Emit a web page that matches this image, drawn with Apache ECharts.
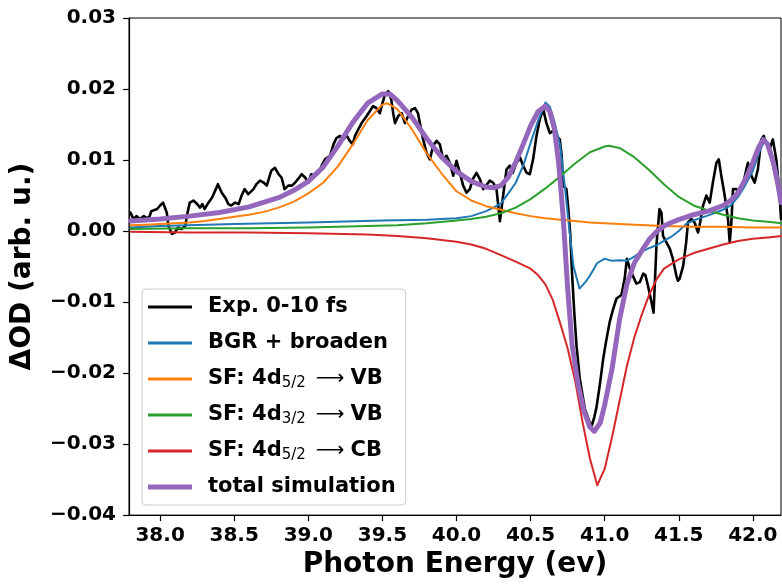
<!DOCTYPE html>
<html><head><meta charset="utf-8">
<script src="https://cdn.jsdelivr.net/npm/echarts@6/dist/echarts.min.js"></script>
<style>html,body{margin:0;padding:0;background:#fff}#c{width:782px;height:584px}</style>
</head><body><div id="c"></div>
<script>
const xTicks = [38.0,38.5,39.0,39.5,40.0,40.5,41.0,41.5,42.0];
const yTicks = [-0.04,-0.03,-0.02,-0.01,0.00,0.01,0.02,0.03];

const expX = [37.80,37.82,37.84,37.865,37.89,37.91,37.93,37.94,37.98,38.00,38.02,38.03,38.045,38.056,38.08,38.10,38.12,38.146,38.17,38.18,38.20,38.225,38.25,38.27,38.285,38.30,38.326,38.35,38.376,38.39,38.416,38.44,38.46,38.48,38.506,38.53,38.55,38.57,38.595,38.63,38.65,38.674,38.70,38.72,38.75,38.775,38.80,38.82,38.84,38.865,38.89,38.91,38.93,38.955,38.98,39.00,39.02,39.045,39.07,39.09,39.113,39.146,39.17,39.19,39.214,39.236,39.26,39.28,39.30,39.315,39.337,39.36,39.394,39.416,39.438,39.46,39.483,39.495,39.517,39.54,39.56,39.573,39.585,39.607,39.63,39.652,39.674,39.697,39.72,39.74,39.753,39.775,39.798,39.82,39.843,39.866,39.888,39.91,39.933,39.955,39.978,40.00,40.023,40.045,40.068,40.09,40.11,40.135,40.158,40.18,40.20,40.225,40.248,40.27,40.293,40.315,40.338,40.36,40.38,40.405,40.43,40.45,40.473,40.495,40.517,40.54,40.562,40.585,40.607,40.63,40.652,40.675,40.697,40.71,40.72,40.742,40.755,40.768,40.78,40.795,40.81,40.832,40.866,40.90,40.915,40.93,40.945,40.967,40.99,41.01,41.034,41.057,41.08,41.113,41.135,41.15,41.17,41.19,41.214,41.237,41.26,41.275,41.29,41.316,41.33,41.35,41.37,41.383,41.394,41.417,41.44,41.46,41.484,41.495,41.506,41.53,41.55,41.562,41.585,41.607,41.63,41.64,41.663,41.686,41.709,41.73,41.754,41.77,41.787,41.81,41.832,41.844,41.855,41.866,41.89,41.91,41.933,41.956,41.967,41.99,42.012,42.034,42.057,42.073,42.09,42.113,42.135,42.158,42.18,42.19];
const expY = [0.0026,0.0017,0.0021,0.0017,0.0021,0.0018,0.0021,0.0028,0.0031,0.0036,0.0040,0.0038,0.0026,0.0007,-0.0004,-0.0002,0.0005,0.0003,0.0007,0.0021,0.0040,0.0043,0.0038,0.0033,0.0038,0.0031,0.0040,0.0047,0.0059,0.0066,0.0054,0.0047,0.0038,0.0036,0.0040,0.0038,0.0050,0.0059,0.0052,0.0059,0.0066,0.0071,0.0068,0.0064,0.0085,0.0089,0.0080,0.0075,0.0059,0.0064,0.0064,0.0068,0.0073,0.0080,0.0075,0.0068,0.0080,0.0078,0.0082,0.0092,0.0101,0.0106,0.0122,0.0131,0.0134,0.0129,0.0134,0.0127,0.0122,0.0134,0.0143,0.0152,0.0162,0.0169,0.0176,0.0173,0.0166,0.0176,0.0192,0.0197,0.0185,0.0166,0.0152,0.0162,0.0166,0.0152,0.0162,0.0171,0.0173,0.0166,0.0152,0.0129,0.0110,0.0101,0.0120,0.0127,0.0122,0.0101,0.0106,0.0096,0.0078,0.0099,0.0082,0.0064,0.0054,0.0059,0.0073,0.0082,0.0073,0.0059,0.0064,0.0071,0.0068,0.0059,0.0014,0.0050,0.0087,0.0092,0.0082,0.0096,0.0103,0.0092,0.0082,0.0080,0.0101,0.0134,0.0157,0.0172,0.0152,0.0138,0.0141,0.0134,0.0129,0.0106,0.0064,0.0059,0.0030,-0.0005,-0.0060,-0.0115,-0.0161,-0.0208,-0.0250,-0.0270,-0.0273,-0.0262,-0.0248,-0.0217,-0.0180,-0.0155,-0.0128,-0.0110,-0.0095,-0.0090,-0.0067,-0.0039,-0.0053,-0.0063,-0.0074,-0.0072,-0.0060,-0.0062,-0.0075,-0.0100,-0.0115,-0.0018,0.0031,0.0026,-0.0007,-0.0016,-0.0025,-0.0039,-0.0063,-0.0070,-0.0067,-0.0049,-0.0016,0.0012,0.0017,0.0012,-0.0002,0.0007,0.0035,0.0050,0.0040,0.0068,0.0096,0.0101,0.0078,0.0050,0.0017,-0.0016,0.0012,0.0059,0.0059,0.0054,0.0064,0.0087,0.0096,0.0078,0.0068,0.0087,0.0129,0.0134,0.0124,0.0115,0.0129,0.0101,0.0054,0.0017];

const bgrX = [37.8,38.0,38.5,39.0,39.5,39.8,40.0,40.1,40.2,40.25,40.3,40.35,40.4,40.45,40.5,40.55,40.6,40.63,40.66,40.7,40.73,40.76,40.79,40.83,40.87,40.9,40.95,41.0,41.05,41.1,41.15,41.2,41.25,41.3,41.35,41.4,41.45,41.5,41.55,41.6,41.7,41.8,41.85,41.9,41.95,42.0,42.05,42.08,42.12,42.16,42.19];
const bgrY = [0.0005,0.0007,0.0010,0.0012,0.0015,0.0016,0.0018,0.0021,0.0028,0.0033,0.0039,0.0053,0.0068,0.0092,0.0124,0.0155,0.0181,0.0175,0.0155,0.0120,0.0065,0.0005,-0.0050,-0.0081,-0.0072,-0.0063,-0.0045,-0.0039,-0.0042,-0.0041,-0.0042,-0.0036,-0.0029,-0.0024,-0.0020,-0.0014,-0.0008,0.0000,0.0010,0.0015,0.0022,0.0030,0.0036,0.0048,0.0065,0.0085,0.0115,0.0127,0.0115,0.0085,0.0050];

const vb52X = [37.8,37.9,38.0,38.1,38.2,38.3,38.4,38.5,38.6,38.7,38.8,38.9,39.0,39.1,39.2,39.3,39.4,39.5,39.53,39.6,39.7,39.8,39.9,40.0,40.1,40.2,40.3,40.4,40.5,40.6,40.7,40.8,40.9,41.0,41.2,41.4,41.6,41.8,42.0,42.2];
const vb52Y = [0.0008,0.0009,0.0010,0.0011,0.0012,0.0014,0.0017,0.0020,0.0023,0.0027,0.0033,0.0041,0.0053,0.0068,0.0091,0.0122,0.0156,0.0178,0.0180,0.0172,0.0143,0.0109,0.0081,0.0056,0.0043,0.0035,0.0030,0.0025,0.0021,0.0018,0.0016,0.0014,0.0012,0.0011,0.0009,0.0007,0.0006,0.0006,0.0005,0.0005];

const vb32X = [37.8,38.2,38.6,39.0,39.4,39.6,39.8,40.0,40.1,40.2,40.3,40.4,40.5,40.6,40.7,40.8,40.9,41.0,41.03,41.1,41.2,41.3,41.4,41.5,41.6,41.7,41.8,41.9,42.0,42.1,42.2];
const vb32Y = [0.0003,0.0004,0.0004,0.0005,0.0007,0.0008,0.0011,0.0015,0.0017,0.0020,0.0025,0.0033,0.0045,0.0060,0.0077,0.0095,0.0111,0.0119,0.0120,0.0117,0.0104,0.0086,0.0066,0.0048,0.0036,0.0029,0.0023,0.0018,0.0015,0.0013,0.0011];

const cbX = [37.8,38.2,38.6,39.0,39.4,39.6,39.8,40.0,40.1,40.2,40.3,40.4,40.5,40.55,40.6,40.65,40.7,40.75,40.8,40.85,40.9,40.95,41.0,41.05,41.1,41.15,41.2,41.25,41.3,41.35,41.4,41.5,41.6,41.7,41.8,41.9,42.0,42.1,42.2];
const cbY = [-0.0001,-0.0002,-0.0002,-0.0003,-0.0005,-0.0007,-0.0010,-0.0015,-0.0019,-0.0025,-0.0034,-0.0043,-0.0053,-0.0062,-0.0075,-0.0097,-0.0130,-0.0165,-0.0210,-0.0268,-0.0320,-0.0358,-0.0335,-0.0290,-0.0240,-0.0190,-0.0150,-0.0118,-0.0090,-0.0068,-0.0053,-0.0040,-0.0031,-0.0025,-0.0019,-0.0014,-0.0011,-0.0009,-0.0007];

const totX = [37.8,38.0,38.2,38.4,38.6,38.8,38.9,39.0,39.1,39.2,39.3,39.4,39.5,39.55,39.6,39.7,39.8,39.9,40.0,40.1,40.2,40.25,40.3,40.35,40.4,40.45,40.5,40.55,40.6,40.63,40.66,40.69,40.72,40.75,40.78,40.82,40.86,40.9,40.93,40.97,41.0,41.05,41.1,41.15,41.2,41.25,41.3,41.35,41.4,41.45,41.5,41.6,41.7,41.8,41.85,41.9,41.95,42.0,42.04,42.07,42.1,42.14,42.17,42.19];
const totY = [0.0014,0.0017,0.0021,0.0026,0.0034,0.0047,0.0057,0.0070,0.0090,0.0120,0.0153,0.0180,0.0193,0.0193,0.0184,0.0160,0.0130,0.0104,0.0084,0.0070,0.0062,0.0061,0.0064,0.0076,0.0097,0.0122,0.0148,0.0168,0.0176,0.0168,0.0145,0.0095,0.0020,-0.0080,-0.0160,-0.0215,-0.0253,-0.0276,-0.0282,-0.0270,-0.0245,-0.0194,-0.0125,-0.0075,-0.0045,-0.0028,-0.0012,-0.0001,0.0007,0.0012,0.0016,0.0023,0.0028,0.0036,0.0043,0.0054,0.0073,0.0097,0.0118,0.0129,0.0122,0.0095,0.0065,0.0040];

const names = ['Exp. 0-10 fs','BGR + broaden','SF: 4d5/2 \u27F6 VB','SF: 4d3/2 \u27F6 VB','SF: 4d5/2 \u27F6 CB','total simulation'];
const seriesX = [expX,bgrX,vb52X,vb32X,cbX,totX];
const seriesY = [expY,bgrY,vb52Y,vb32Y,cbY,totY];
const colors = ['#000000','#1f77b4','#ff7f0e','#2ca02c','#d62728','#9467bd'];
const widths = [2.6,2,2,2,2,5];
const iconH = [3,3,3,3,3,5];

const F = 'DejaVu Sans';
function pairs(xs, ys){ return xs.map((x,i)=>[x, ys[i]]); }
function fmtY(v){ const s = Math.abs(v).toFixed(2); return v < -1e-9 ? '\u2212' + s : s; }

const chart = echarts.init(document.getElementById('c'), null, {renderer:'canvas'});
chart.setOption({
  animation:false,
  backgroundColor:'#ffffff',
  grid:{left:129, right:1, top:18, bottom:66, show:true, borderColor:'#000', borderWidth:1, backgroundColor:'transparent'},
  xAxis:{
    type:'value', min:37.79, max:42.19,
    name:'Photon Energy (ev)', nameLocation:'middle', nameGap:30,
    nameTextStyle:{fontFamily:F, fontWeight:'bold', fontSize:28, color:'#000'},
    axisLine:{show:true, onZero:false, lineStyle:{color:'#000', width:1.2}},
    axisTick:{show:true, length:6, customValues:xTicks, lineStyle:{color:'#000', width:1.2}},
    axisLabel:{customValues:xTicks, margin:11, fontFamily:F, fontWeight:'bold', fontSize:20, color:'#000', formatter:v=>Number(v).toFixed(1)},
    splitLine:{show:false}
  },
  yAxis:{
    type:'value', min:-0.04, max:0.03, interval:0.01,
    name:'\u0394OD (arb. u.)', nameLocation:'middle', nameGap:92,
    nameTextStyle:{fontFamily:F, fontWeight:'bold', fontSize:28, color:'#000'},
    axisLine:{show:true, onZero:false, lineStyle:{color:'#000', width:1.2}},
    axisTick:{show:true, length:6, lineStyle:{color:'#000', width:1.2}},
    axisLabel:{margin:13, fontFamily:F, fontWeight:'bold', fontSize:20, color:'#000', formatter:fmtY},
    splitLine:{show:false}
  },
  legend:{
    orient:'vertical', left:142, top:289,
    itemWidth:44, itemHeight:24, itemGap:12,
    padding:[6,10,6,6],
    backgroundColor:'rgba(255,255,255,0.8)', borderColor:'#cccccc', borderWidth:1, borderRadius:4,
    itemStyle:{borderWidth:0},
    textStyle:{fontFamily:F, fontWeight:'bold', fontSize:21, color:'#000', lineHeight:24, padding:[0,0,0,11],
      rich:{
        a:{fontFamily:F, fontWeight:'bold', fontSize:21, color:'#000', lineHeight:24, verticalAlign:'middle'},
        s:{fontFamily:F, fontWeight:'normal', fontSize:15, color:'#000', lineHeight:12, verticalAlign:'bottom'},
        r:{fontFamily:F, fontWeight:'normal', fontSize:20, color:'#000', lineHeight:24, verticalAlign:'middle', padding:[0,6,0,10]}
      }},
    formatter: n => {
      const m = n.match(/^SF: 4d(\d\/\d) \u27F6 (\w+)$/);
      if (m) return '{a|SF: 4d}{s|' + m[1] + '}{r|\u27F6}{a|' + m[2] + '}';
      return '{a|' + n + '}';
    },
    data: names.map((n,i)=>({name:n, icon:'path://M0,0H44V' + iconH[i] + 'H0Z', itemStyle:{color:colors[i], borderWidth:0}}))
  },
  series: names.map((n,i)=>({
    name:n, type:'line', data:pairs(seriesX[i], seriesY[i]),
    showSymbol:false, symbol:'none', smooth:false, clip:true,
    color:colors[i],
    lineStyle:{color:colors[i], width:widths[i], join:'round', cap:'round'},
    z:2+i
  }))
});
</script></body></html>
